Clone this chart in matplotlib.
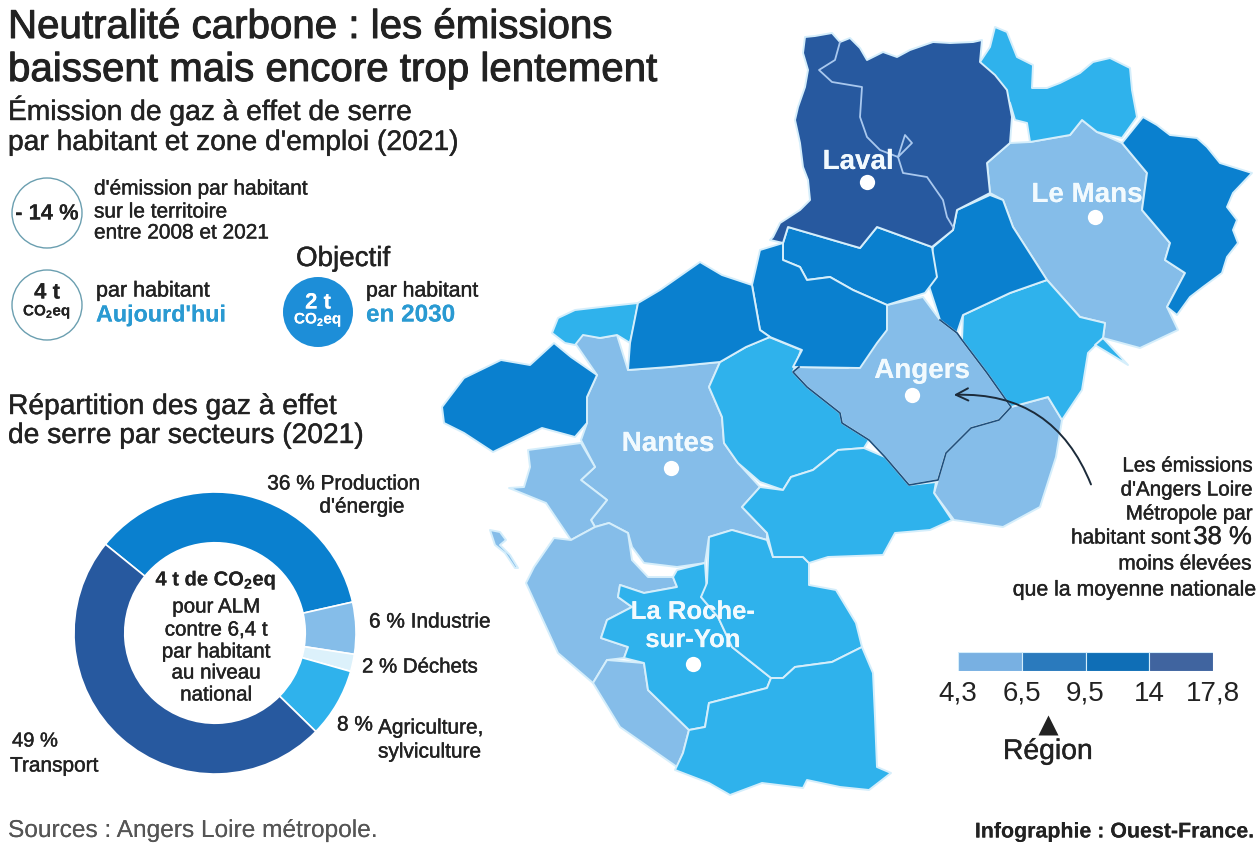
import matplotlib
matplotlib.use("Agg")
from matplotlib import pyplot as plt
from matplotlib import patheffects as pe
from matplotlib.patches import Circle, FancyArrowPatch, Polygon

# map outlines (pixels of the 1260x848 reference)
laval = [(805, 37), (815, 36), (832, 33), (840, 42), (850, 38), (860, 48), (867, 60), (883, 52), (897, 57), (910, 50),
         (933, 42), (950, 43), (973, 42), (982, 40), (980, 62), (995, 75), (1007, 90), (1012, 117), (1010, 143),
         (987, 163), (990, 193), (957, 210), (953, 230), (932, 247), (877, 227), (860, 248), (788, 227), (783, 243),
         (770, 240), (773, 237), (780, 223), (800, 210), (810, 200), (808, 180), (803, 167), (800, 143), (795, 120),
         (798, 107), (805, 87), (808, 70), (803, 53)]
laval_river = [(840, 42), (835, 60), (819, 70), (832, 82), (862, 87), (860, 117), (867, 137), (880, 150), (898, 157),
               (912, 143), (905, 135), (898, 157), (903, 173), (927, 177), (943, 200), (947, 217), (953, 227)]
alencon = [(995, 27), (1007, 32), (1017, 57), (1033, 65), (1032, 88), (1047, 88), (1060, 83), (1080, 73), (1093, 62),
           (1110, 58), (1130, 68), (1132, 90), (1137, 117), (1122, 138), (1097, 132), (1082, 120), (1070, 135),
           (1030, 142), (1027, 123), (1015, 120), (1010, 103), (980, 62), (990, 47)]
le_mans = [(1082, 120), (1097, 132), (1122, 143), (1147, 173), (1142, 210), (1170, 243), (1165, 260), (1185, 273),
           (1167, 307), (1178, 330), (1140, 348), (1103, 338), (1105, 323), (1080, 317), (1047, 280), (1013, 227),
           (1003, 200), (990, 193), (987, 163), (1010, 143), (1030, 142), (1070, 135)]
la_ferte = [(1122, 143), (1143, 117), (1157, 125), (1170, 135), (1197, 138), (1207, 147), (1220, 163), (1252, 173),
            (1233, 193), (1227, 207), (1237, 220), (1233, 230), (1238, 243), (1227, 257), (1222, 273), (1203, 287),
            (1190, 297), (1177, 315), (1167, 307), (1185, 273), (1165, 260), (1170, 243), (1142, 210), (1147, 173)]
sable = [(957, 210), (990, 195), (1003, 200), (1013, 227), (1047, 280), (1010, 293), (963, 315), (957, 333),
         (940, 320), (927, 280), (933, 247), (953, 230)]
mayenne_sud = [(788, 227), (860, 248), (877, 227), (932, 247), (937, 277), (925, 293), (887, 305), (853, 290),
               (830, 277), (807, 280), (800, 267), (783, 260), (783, 243)]
segre = [(752, 285), (760, 250), (783, 243), (783, 260), (800, 267), (807, 280), (830, 277), (853, 290), (887, 305),
         (887, 330), (877, 343), (860, 368), (793, 367), (802, 350), (770, 337), (760, 330)]
chateaubriant = [(630, 343), (638, 303), (660, 290), (700, 262), (722, 275), (737, 280), (752, 285), (760, 330),
                 (770, 337), (746, 347), (720, 362), (669, 367), (628, 370)]
redon = [(552, 333), (558, 318), (575, 310), (610, 306), (638, 303), (634, 325), (630, 343), (617, 335), (600, 338),
         (583, 335), (575, 345), (565, 343)]
saint_nazaire = [(442, 407), (464, 378), (501, 360), (530, 365), (554, 343), (571, 357), (597, 375), (587, 397),
                 (587, 423), (575, 437), (542, 428), (493, 452), (464, 433), (444, 423)]
nantes = [(579, 333), (600, 338), (617, 335), (628, 370), (669, 367), (720, 362), (709, 387), (722, 417), (724, 443),
          (738, 463), (760, 487), (742, 507), (767, 533), (767, 540), (732, 530), (709, 537), (705, 563), (677, 567),
          (644, 563), (632, 547), (628, 533), (609, 523), (595, 527), (591, 520), (607, 500), (581, 480), (595, 467),
          (581, 440), (587, 423), (587, 397), (597, 375), (575, 343)]
pornic = [(528, 450), (581, 443), (595, 467), (581, 480), (607, 500), (591, 520), (595, 527), (571, 540), (546, 503),
          (509, 488), (524, 487), (530, 467)]
noirmoutier = [(490, 530), (500, 532), (506, 540), (500, 545), (510, 555), (518, 568), (515, 568), (505, 553),
               (495, 545)]
challans = [(554, 538), (571, 540), (595, 527), (609, 523), (628, 533), (632, 560), (648, 577), (673, 577), (677, 587),
            (644, 593), (620, 585), (618, 597), (632, 607), (607, 620), (601, 638), (628, 647), (624, 658), (607, 660),
            (593, 683), (558, 653), (526, 583), (534, 567)]
les_sables = [(607, 660), (644, 663), (648, 690), (689, 730), (683, 753), (677, 767), (620, 727), (593, 683)]
la_roche = [(620, 585), (644, 593), (677, 587), (673, 577), (677, 570), (705, 563), (707, 593), (701, 597), (718, 617),
            (732, 647), (771, 678), (767, 688), (709, 703), (705, 727), (689, 730), (648, 690), (644, 663), (624, 658),
            (628, 647), (601, 638), (607, 620), (632, 607), (618, 597)]
cholet = [(709, 537), (732, 530), (767, 540), (773, 557), (803, 557), (809, 563), (809, 585), (836, 590), (856, 623),
          (862, 647), (832, 662), (795, 667), (783, 678), (771, 678), (732, 647), (718, 617), (701, 597), (707, 583)]
fontenay = [(862, 647), (873, 673), (875, 717), (877, 767), (891, 773), (869, 790), (840, 787), (807, 780), (803, 788),
            (762, 783), (730, 795), (709, 783), (675, 770), (683, 753), (689, 730), (705, 727), (709, 703), (767, 688),
            (771, 678), (783, 678), (795, 667), (832, 662)]
ancenis = [(769, 337), (801, 350), (793, 372), (807, 387), (840, 413), (842, 423), (869, 440), (864, 448), (838, 450),
           (813, 470), (791, 477), (783, 490), (760, 482), (738, 463), (724, 443), (722, 417), (709, 387), (720, 362),
           (746, 347)]
mauges = [(791, 477), (813, 470), (838, 450), (864, 448), (885, 457), (909, 485), (936, 482), (934, 493), (952, 520),
          (930, 530), (895, 533), (883, 555), (828, 557), (809, 563), (803, 557), (773, 557), (767, 533), (742, 507),
          (760, 487), (783, 490)]
angers = [(887, 305), (923, 297), (940, 320), (957, 333), (962, 340), (987, 373), (1011, 407), (999, 420), (971, 428),
          (946, 453), (938, 480), (909, 485), (885, 457), (869, 440), (842, 423), (840, 413), (807, 387), (793, 372),
          (799, 367), (848, 368), (864, 357), (877, 333), (887, 320)]
saumur = [(1011, 407), (1048, 397), (1062, 420), (1056, 457), (1040, 507), (1003, 527), (954, 520), (934, 493),
          (938, 480), (946, 453), (971, 428), (999, 420)]
bauge = [(963, 315), (1010, 293), (1047, 280), (1080, 317), (1105, 323), (1103, 338), (1088, 353), (1082, 390),
         (1062, 420), (1048, 397), (1011, 407), (987, 373), (962, 340)]
sliver = [(1103, 338), (1128, 365), (1115, 357), (1095, 345)]

zones_light = [le_mans, nantes, pornic, noirmoutier, challans, les_sables, angers, saumur]
zones_sky = [alencon, redon, la_roche, cholet, fontenay, ancenis, mauges, bauge, sliver]
zones_strong = [la_ferte, sable, mayenne_sud, segre, chateaubriant, saint_nazaire]
zones_dark = [laval]

cities = ["Laval", "Le Mans", "Angers", "Nantes", "La Roche-\nsur-Yon"]
city_x = [867, 1095, 912, 671, 693]
city_y = [182, 217, 395, 468, 664]
city_label_x = [858, 1087, 922, 668, 693]
city_label_y = [162, 195, 371, 444, 626]
city_label_size = [20, 20, 20, 20, 18.5]

sector_share = [36, 6, 2, 8, 49]

legend_breaks = ["4,3", "6,5", "9,5", "14", "17,8"]
legend_classes = [0, 1, 2, 3]
region_position = 1.41

LIGHT, SKY, STRONG, DARK = "#85bde9", "#2fb2ec", "#0a80cf", "#27599f"
EDGE = "#d5eefb"
TEXT = "#222222"

plt.rcParams["font.family"] = ["Liberation Sans", "DejaVu Sans"]
plt.rcParams["mathtext.default"] = "regular"

fig = plt.figure(figsize=(12.6, 8.48), dpi=100)
ax = fig.add_axes([0, 0, 1, 1])
ax.set_xlim(0, 1260)
ax.set_ylim(848, 0)
ax.axis("off")


def label(x, y, s, size=15, ha="left", color=TEXT, thick=0.3, **kw):
    """ Put a text on the page, y being its vertical middle. """
    t = ax.text(x, y, s, fontsize=size, ha=ha, va="center", color=color, **kw)
    t.set_path_effects([pe.withStroke(linewidth=thick, foreground=color)])
    return t


# map
for zones, colour in ((zones_light, LIGHT), (zones_sky, SKY), (zones_strong, STRONG), (zones_dark, DARK)):
    for zone in zones:
        ax.add_patch(Polygon(zone, closed=True, facecolor=colour, edgecolor=EDGE, lw=1.4, joinstyle="round", zorder=2))
ax.plot(*zip(*laval_river), color="#a9c8ee", lw=1.3, zorder=3)
ax.plot(*zip(*angers[2:19]), color="#1f4f7d", lw=1.2, zorder=3)
ax.plot(city_x, city_y, "o", color="white", ms=11, mec="none", zorder=4)
for name, x, y, size in zip(cities, city_label_x, city_label_y, city_label_size):
    label(x, y, name, size=size, ha="center", color="#f2fafe", fontweight="bold", zorder=5, linespacing=1.22, thick=0)

ax.add_patch(FancyArrowPatch((1092, 487), (951, 395), connectionstyle="arc3,rad=0.36", arrowstyle="->",
                             mutation_scale=22, color="#1c2b3a", lw=1.4, zorder=6))

# header
label(8, 27, "Neutralité carbone : les émissions", size=29, thick=0.7)
label(8, 70, "baissent mais encore trop lentement", size=29, thick=0.7)
label(8, 111, "Émission de gaz à effet de serre", size=20.3)
label(8, 143, "par habitant et zone d'emploi (2021)", size=20.3)

# key figures
ax.add_patch(Circle((47, 213), 35, facecolor="white", edgecolor="#6b9fb0", lw=1))
label(47, 214, "- 14 %", size=15.8, ha="center", fontweight="bold", thick=0)
label(94, 189, "d'émission par habitant", size=15)
label(94, 212, "sur le territoire", size=15)
label(94, 233, "entre 2008 et 2021", size=15)

ax.add_patch(Circle((47, 305), 35, facecolor="white", edgecolor="#6b9fb0", lw=1))
label(47, 293, "4 t", size=16, ha="center", fontweight="bold", thick=0)
label(47, 312, "CO$_2$eq", size=11, ha="center", fontweight="bold", thick=0)
label(96, 291, "par habitant", size=15.5)
label(96, 315, "Aujourd'hui", size=16.8, color="#2a9ad2", fontweight="bold", thick=0)

label(296, 259, "Objectif", size=20)
ax.add_patch(Circle((318, 312), 35, facecolor="#1d8ed8", edgecolor="none"))
label(318, 303, "2 t", size=16, ha="center", color="white", fontweight="bold", thick=0)
label(318, 320, "CO$_2$eq", size=11, ha="center", color="white", fontweight="bold", thick=0)
label(366, 291, "par habitant", size=15.3)
label(366, 315, "en 2030", size=17.5, color="#2a9ad2", fontweight="bold", thick=0)

# donut
label(8, 407, "Répartition des gaz à effet", size=20.3)
label(8, 436, "de serre par secteurs (2021)", size=20.3)
cx, cy, r = 215, 633, 141
pie_ax = fig.add_axes([(cx - r) / 1260, (848 - cy - r) / 848, 2 * r / 1260, 2 * r / 848])
pie_ax.pie(sector_share, colors=[STRONG, LIGHT, "#dcf1fb", SKY, DARK], startangle=141, counterclock=False, radius=1,
           wedgeprops={"width": 0.36, "edgecolor": "white", "linewidth": 1.2})
pie_ax.set_xlim(-1, 1)
pie_ax.set_ylim(-1, 1)

label(216, 580, "4 t de CO$_2$eq", size=14.5, ha="center", fontweight="bold", thick=0)
for y, line in zip((607, 630, 652, 673, 695), ("pour ALM", "contre 6,4 t", "par habitant", "au niveau", "national")):
    label(216, y, line, size=14.8, ha="center")

label(344, 484, "36 % Production", size=15, ha="center")
label(362, 507, "d'énergie", size=15, ha="center")
label(369, 622, "6 % Industrie", size=15)
label(362, 667, "2 % Déchets", size=14.7)
label(337, 725, "8 %", size=15)
label(378, 728, "Agriculture,", size=15)
label(378, 752, "sylviculture", size=15)
label(12, 741, "49 %", size=14.5)
label(10, 766, "Transport", size=15)

# choropleth key
key_ax = fig.add_axes([958 / 1260, (848 - 671) / 848, 255 / 1260, 19 / 848])
key_ax.bar(legend_classes, [1] * 4, width=1, align="edge", color=["#78b0e2", "#2a7abd", "#0f6eb6", "#40649f"],
           edgecolor="#d5eefb", linewidth=0.8)
key_ax.set_xlim(0, 4)
key_ax.set_ylim(0, 1)
key_ax.set_yticks([])
key_ax.set_xticks(range(5))
key_ax.set_xticklabels(legend_breaks, fontsize=20, color=TEXT)
key_ax.tick_params(axis="x", length=0, pad=7)
for side in key_ax.spines.values():
    side.set_visible(False)
ax.plot(958 + region_position * 255 / 4, 725, "^", color=TEXT, ms=15, mec="none")
label(1048, 752, "Région", size=20.4, ha="center")

# note on the right
for y, line in zip((466, 490, 514), ("Les émissions", "d'Angers Loire", "Métropole par")):
    label(1252, y, line, size=14.8, ha="right")
label(1191, 538, "habitant sont", size=15, ha="right")
label(1252, 537, "38 %", size=18.5, ha="right")
label(1252, 564, "moins élevées", size=15, ha="right")
label(1256, 590, "que la moyenne nationale", size=15.3, ha="right")

# footer
label(8, 831, "Sources : Angers Loire métropole.", size=17.6, color="#555555", thick=0)
label(1255, 832, "Infographie : Ouest-France.", size=15.4, ha="right", fontweight="bold", thick=0)

fig.savefig("out.png", dpi=100)
